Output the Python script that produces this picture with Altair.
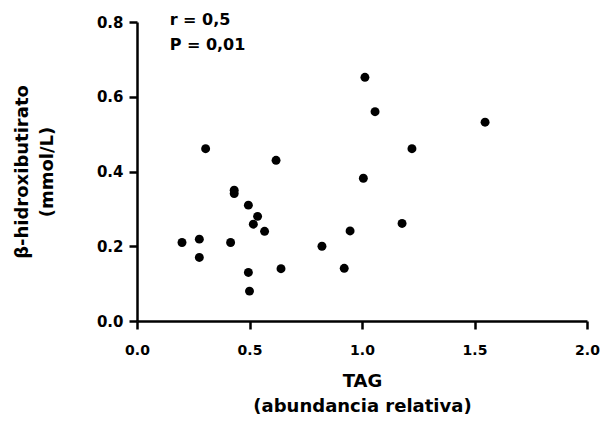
import altair as alt
import pandas as pd

# Data
tag = [0.200, 0.277, 0.277, 0.305, 0.416, 0.432, 0.432, 0.495, 0.536, 0.517,
       0.567, 0.495, 0.500, 0.640, 0.618, 0.822, 0.921, 0.947, 1.006, 1.013,
       1.058, 1.178, 1.222, 1.547]
bhb = [0.210, 0.219, 0.170, 0.461, 0.210, 0.350, 0.341, 0.310, 0.280, 0.259,
       0.240, 0.130, 0.080, 0.140, 0.430, 0.200, 0.141, 0.241, 0.382, 0.652,
       0.560, 0.261, 0.461, 0.532]

x_ticks = [0.0, 0.5, 1.0, 1.5, 2.0]
y_ticks = [0.0, 0.2, 0.4, 0.6, 0.8]

annot_text = ["r = 0,5", "P = 0,01"]
annot_x = [0.145, 0.145]
annot_y = [0.791, 0.724]

FONT = "DejaVu Sans"

df = pd.DataFrame({"tag": tag, "bhb": bhb})
adf = pd.DataFrame({"tag": annot_x, "bhb": annot_y, "t": annot_text})

x_enc = alt.X(
    "tag:Q",
    scale=alt.Scale(domain=[0, 2], nice=False, zero=False),
    axis=alt.Axis(
        values=x_ticks, format=".1f", labelFlush=False, labelOverlap=False,
        title=["TAG", "(abundancia relativa)"],
        titleX=225, titleY=65, titleAlign="center", titleBaseline="alphabetic",
        titleLineHeight=25, labelPadding=14, labelFontSize=14,
    ),
)
y_enc = alt.Y(
    "bhb:Q",
    scale=alt.Scale(domain=[0, 0.8], nice=False, zero=False),
    axis=alt.Axis(
        values=y_ticks, format=".1f", labelFlush=False, labelOverlap=False,
        title=["β-hidroxibutirato", "(mmol/L)"],
        titleX=-110, titleY=149.5, titleAngle=-90, titleAlign="center",
        titleBaseline="alphabetic", titleLineHeight=25, labelPadding=6,
        labelFontSize=15,
    ),
)

points = alt.Chart(df).mark_circle(size=80, color="black", opacity=1).encode(
    x=x_enc, y=y_enc
)

text = alt.Chart(adf).mark_text(
    align="left", baseline="alphabetic", font=FONT, fontWeight="bold",
    fontSize=16, color="black"
).encode(x=x_enc, y=y_enc, text="t:N")

chart = (
    alt.layer(points, text)
    .properties(
        width=450, height=299,
        autosize=alt.AutoSizeParams(type="none"),
        padding={"left": 137, "top": 22, "right": 13, "bottom": 100},
        background="white",
    )
    .configure_view(stroke=None)
    .configure_axis(
        grid=False,
        domainColor="black", domainWidth=2.5,
        tickColor="black", tickWidth=2.5, tickSize=8,
        labelFont=FONT, labelFontWeight="bold", labelColor="black",
        titleFont=FONT, titleFontWeight="bold", titleFontSize=18, titleColor="black",
    )
)

chart.save("out.html", embed_options={"renderer": "svg", "actions": False})
